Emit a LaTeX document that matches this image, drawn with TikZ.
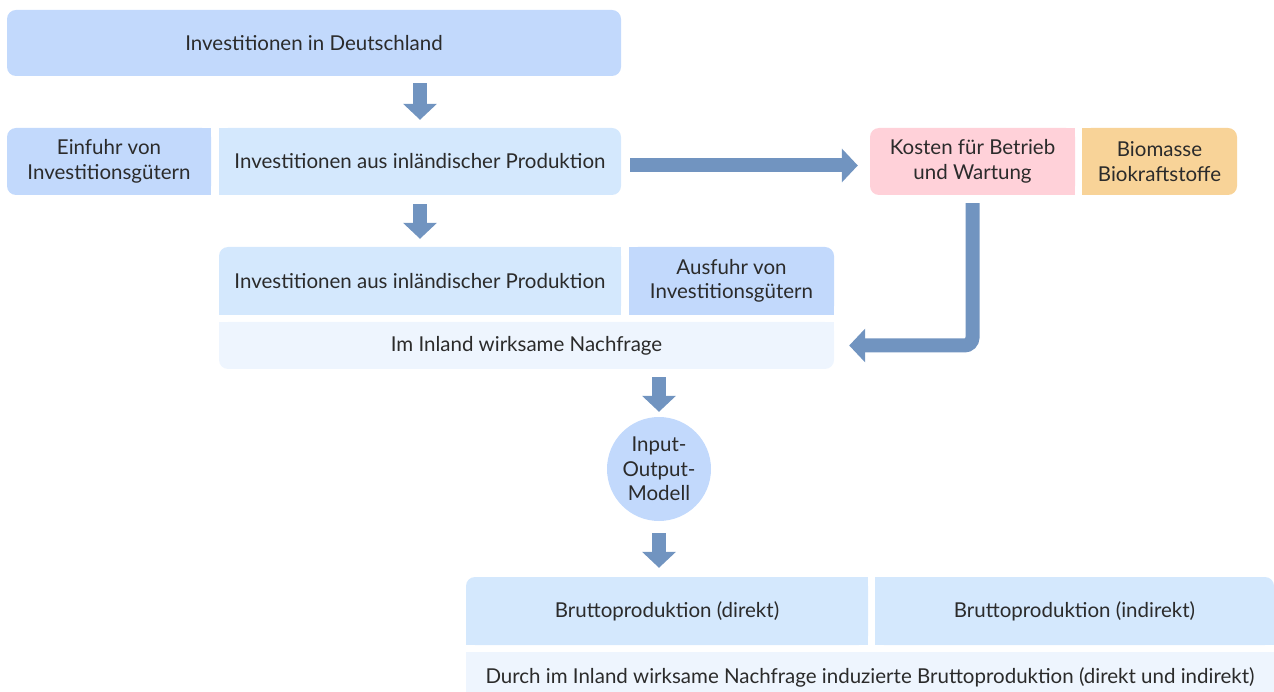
\documentclass[tikz,border=0pt]{standalone}
\usepackage{fontspec}
\setmainfont{Lato}
\usetikzlibrary{arrows.meta, calc, backgrounds}

\definecolor{boxdark}{HTML}{C2D9FC}
\definecolor{boxlight}{HTML}{D4E8FD}
\definecolor{boxpale}{HTML}{EEF5FE}
\definecolor{boxpink}{HTML}{FFD1D9}
\definecolor{boxorange}{HTML}{F8D398}
\definecolor{arrowblue}{HTML}{7194C0}
\definecolor{textgray}{HTML}{2B2B2B}

\begin{document}
\begin{tikzpicture}[
		x=1pt, y=-1pt, % pixel-like grid, y downwards
		font=\fontsize{20.5}{24.5}\selectfont,
		text=textgray,
		box/.style={fill=#1, rounded corners=9pt, minimum height=67pt, align=center, inner sep=0pt},
		fatarrow/.style={draw=arrowblue, line width=14pt, -{Triangle[width=33pt, length=16pt]}}
		]
		
		\useasboundingbox (0,0) rectangle (1274,692);
		
		% --- 1. Investment boxes ---
		\node[box=boxdark, minimum width=614pt, minimum height=66pt] (top) at (314,43) {Investitionen in Deutschland};
		
		\node[box=boxdark, minimum width=204pt] (einfuhr) at (109,161.5) {Einfuhr von\\Investitionsgütern};
		\node[box=boxlight, minimum width=402pt] (inland) at (420,161.5) {Investitionen aus inländischer Produktion};
		
		\node[box=boxpink, minimum width=205pt] (kosten) at (972.5,161.5) {Kosten für Betrieb\\und Wartung};
		\node[box=boxorange, minimum width=155pt] (bio) at (1159.5,161.5) {Biomasse\\Biokraftstoffe};
		
		% --- 2. Domestic demand ---
		\node[box=boxlight, minimum width=402pt, minimum height=68pt] (inland2) at (420,281) {Investitionen aus inländischer Produktion};
		\node[box=boxdark, minimum width=205pt, minimum height=68pt] (ausfuhr) at (731.5,281) {Ausfuhr von\\Investitionsgütern};
		\node[box=boxpale, minimum width=615pt, minimum height=47pt] (nachfrage) at (526.5,345.5) {Im Inland wirksame Nachfrage};
		
		% --- 3. Model and output ---
		\node[circle, fill=boxdark, minimum size=104pt, inner sep=0pt, align=center] (io) at (659,469) {Input-\\Output-\\Modell};
		
		\node[box=boxlight, minimum width=402pt, minimum height=68pt] (direkt) at (667,611) {Bruttoproduktion (direkt)};
		\node[box=boxlight, minimum width=399pt, minimum height=68pt] (indirekt) at (1074.5,611) {Bruttoproduktion (indirekt)};
		\node[box=boxpale, minimum width=808pt, minimum height=50pt] (durch) at (870,677) {Durch im Inland wirksame Nachfrage induzierte Bruttoproduktion (direkt und indirekt)};
		
		% --- 4. Square off the corners that are not rounded ---
		\begin{scope}[on background layer]
			\fill[boxdark] (einfuhr.north) rectangle (einfuhr.south east);
			\fill[boxlight] (inland.north west) rectangle (inland.south);
			\fill[boxpink] (kosten.north) rectangle (kosten.south east);
			\fill[boxorange] (bio.north west) rectangle (bio.south);
			\fill[boxlight] (inland2.north) rectangle (inland2.south east);
			\fill[boxlight] (inland2.west) rectangle (inland2.south);
			\fill[boxdark] (ausfuhr.north west) rectangle (ausfuhr.south);
			\fill[boxdark] (ausfuhr.center) rectangle (ausfuhr.south east);
			\fill[boxpale] (nachfrage.north west) rectangle (nachfrage.east);
			\fill[boxlight] (direkt.north) rectangle (direkt.south east);
			\fill[boxlight] (direkt.west) rectangle (direkt.south);
			\fill[boxlight] (indirekt.north west) rectangle (indirekt.south);
			\fill[boxlight] (indirekt.center) rectangle (indirekt.south east);
			\fill[boxpale] (durch.north west) rectangle (durch.east);
		\end{scope}
		
		% --- 5. Arrows ---
		\draw[fatarrow, shorten <=7pt, shorten >=8pt] (top.south -| inland.north) -- (inland.north);
		\draw[fatarrow, shorten <=9pt, shorten >=8pt] (inland.south) -- (inland2.north);
		\draw[fatarrow, shorten <=9pt, shorten >=12pt] ([yshift=-4pt]inland.east) -- ([yshift=-4pt]kosten.west);
		\draw[fatarrow, rounded corners=8pt, shorten <=8pt, shorten >=15pt] (kosten.south) -- (kosten.south |- nachfrage.east) -- (nachfrage.east);
		\draw[fatarrow, shorten <=8pt, shorten >=5pt] (io.north |- nachfrage.south) -- (io.north);
		\draw[fatarrow, shorten <=12pt, shorten >=9pt] (io.south) -- (io.south |- direkt.north);
		
	\end{tikzpicture}
\end{document}
